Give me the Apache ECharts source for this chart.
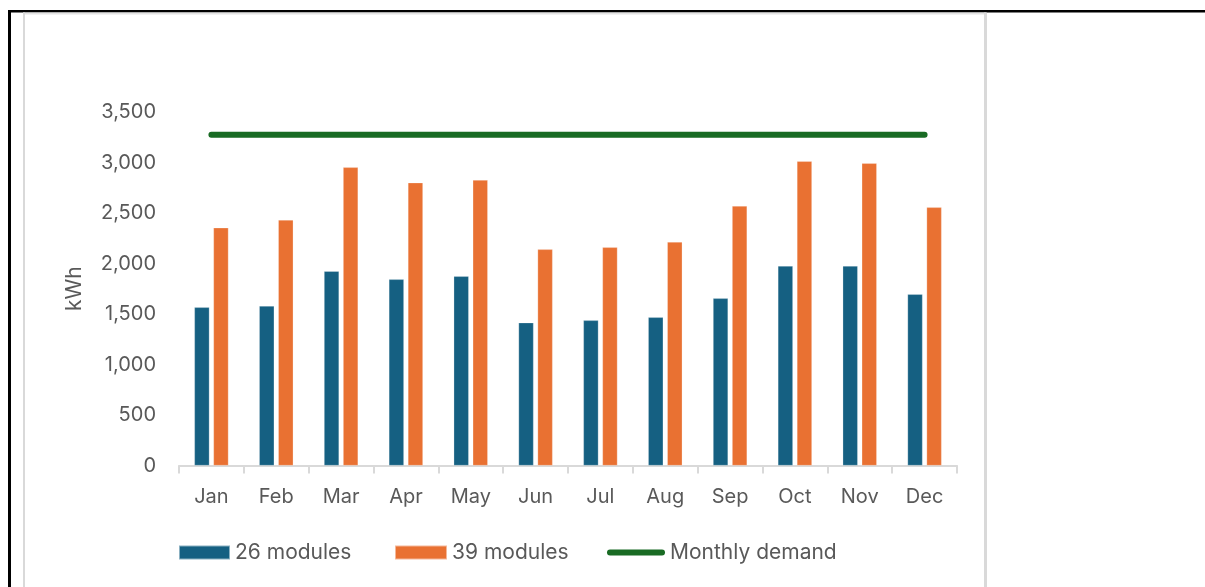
<!DOCTYPE html>
<html>
<head>
<meta charset="utf-8">
<script src="https://cdn.jsdelivr.net/npm/echarts@6/dist/echarts.min.js"></script>
<style>
  html, body { margin: 0; padding: 0; background: #fff; }
  #chart { width: 1205px; height: 587px; }
</style>
</head>
<body>
<div id="chart"></div>
<script>
// 月份
var months = ['Jan', 'Feb', 'Mar', 'Apr', 'May', 'Jun', 'Jul', 'Aug', 'Sep', 'Oct', 'Nov', 'Dec'];
// 26 块组件的月发电量 (kWh)
var modules26 = [1566, 1579, 1923, 1843, 1873, 1414, 1437, 1467, 1655, 1975, 1975, 1695];
// 39 块组件的月发电量 (kWh)
var modules39 = [2354, 2431, 2952, 2800, 2826, 2140, 2160, 2213, 2569, 3012, 2992, 2556];
// 月需求
var demand = [3275, 3275, 3275, 3275, 3275, 3275, 3275, 3275, 3275, 3275, 3275, 3275];

var FONT = 'Inter';
var TEXT = '#595959';
var FS = 20;

var chart = echarts.init(document.getElementById('chart'));

chart.setOption({
    animation: false,
    backgroundColor: '#fff',
    textStyle: { fontFamily: FONT },
    grid: { left: 179, right: 248, top: 112, bottom: 121.5, containLabel: false },
    // 三个图例分开放，方便定位（legend 默认 padding 5）
    legend: [
        {
            data: [{ name: '26 modules', icon: 'rect' }], left: 173, top: 537,
            itemWidth: 51, itemHeight: 14,
            textStyle: { color: TEXT, fontSize: 21, fontFamily: FONT }
        },
        {
            data: [{ name: '39 modules', icon: 'rect' }], left: 389, top: 537,
            itemWidth: 52, itemHeight: 14,
            textStyle: { color: TEXT, fontSize: 21, fontFamily: FONT }
        },
        {
            data: [{ name: 'Monthly demand', icon: 'path://M3,0 L55,0 A3,3 0 0 1 55,6 L3,6 A3,3 0 0 1 3,0 Z' }],
            left: 602, top: 537,
            itemWidth: 58, itemHeight: 6,
            textStyle: { color: TEXT, fontSize: 21, fontFamily: FONT }
        }
    ],
    xAxis: {
        type: 'category',
        data: months,
        axisLine: { lineStyle: { color: '#d9d9d9', width: 2 } },
        axisTick: { show: true, length: 8, lineStyle: { color: '#d9d9d9', width: 2 } },
        axisLabel: { color: TEXT, fontSize: FS, margin: 21, fontFamily: FONT },
        splitLine: { show: false }
    },
    yAxis: {
        type: 'value',
        min: 0, max: 3500, interval: 500,
        name: 'kWh',
        nameLocation: 'middle',
        nameGap: 94,
        nameRotate: 90,
        nameTextStyle: { color: TEXT, fontSize: 21, fontFamily: FONT },
        axisLine: { show: false },
        axisTick: { show: false },
        splitLine: { show: false },
        axisLabel: {
            color: TEXT, fontSize: FS, margin: 23, fontFamily: FONT,
            formatter: function (v) { return v.toLocaleString('en-US'); }
        }
    },
    series: [
        {
            name: '26 modules', type: 'bar', data: modules26,
            barWidth: 15, barGap: '27%',
            itemStyle: { color: '#156082', borderColor: 'rgba(255,255,255,0.5)', borderWidth: 0.5 }
        },
        {
            name: '39 modules', type: 'bar', data: modules39,
            barWidth: 15,
            itemStyle: { color: '#E97132', borderColor: 'rgba(255,255,255,0.5)', borderWidth: 0.5 }
        },
        {
            name: 'Monthly demand', type: 'line', data: demand,
            symbol: 'none',
            lineStyle: { color: '#196B24', width: 6, cap: 'round' },
            itemStyle: { color: '#196B24' }
        }
    ],
    // 外框：黑线 + 浅灰内框
    graphic: [
        { type: 'rect', shape: { x: 8, y: 10, width: 1197, height: 2.5 }, style: { fill: '#000' } },
        { type: 'rect', shape: { x: 8, y: 10, width: 3, height: 577 }, style: { fill: '#000' } },
        { type: 'rect', shape: { x: 23, y: 12.5, width: 963, height: 2 }, style: { fill: '#e3e3e3' } },
        { type: 'rect', shape: { x: 23, y: 12.5, width: 2, height: 575 }, style: { fill: '#d9d9d9' } },
        { type: 'rect', shape: { x: 984, y: 12.5, width: 3, height: 575 }, style: { fill: '#d9d9d9' } }
    ]
});
</script>
</body>
</html>
